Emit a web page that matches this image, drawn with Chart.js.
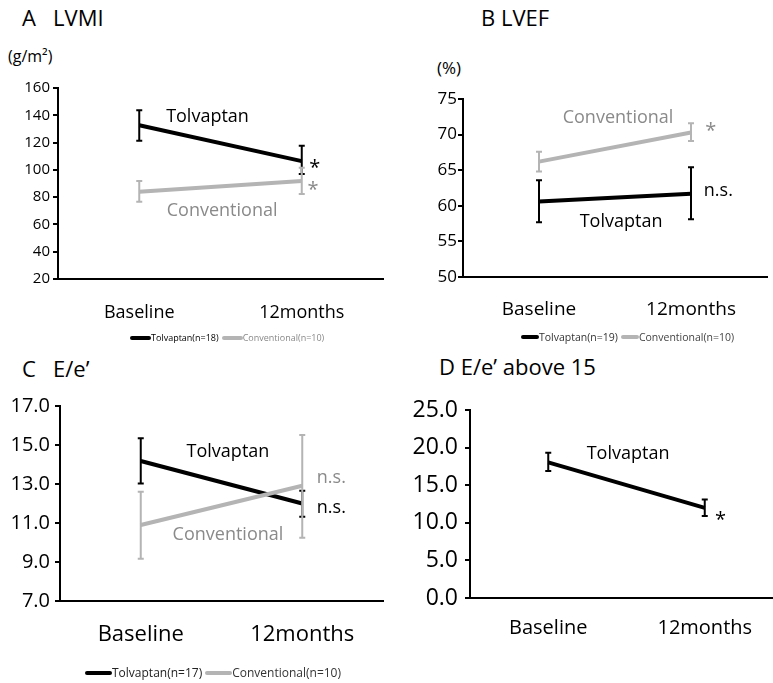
<!DOCTYPE html>
<html>
<head>
<meta charset="utf-8">
<script src="https://cdn.jsdelivr.net/npm/chart.js@4.4.0/dist/chart.umd.min.js"></script>
<style>
  html, body { margin: 0; padding: 0; background: #fff; overflow: hidden; }
  #page { position: relative; width: 773px; height: 683px; font-family: 'Open Sans', sans-serif; }
  .box { position: absolute; }
  .lbl { position: absolute; white-space: pre; line-height: 1; color: #000; }
  .legend { position: absolute; display: flex; align-items: center; white-space: pre; }
  .legend .ln { display: inline-block; height: 4px; border-radius: 2px; }
</style>
</head>
<body>
<div id="page">
  <div class="lbl" style="left:22px; top:6px; font-size:22px;">A   LVMI</div>
  <div class="lbl" style="left:8px; top:48px; font-size:16px;">(g/m²)</div>
  <div class="lbl" style="left:481px; top:6px; font-size:22px;">B LVEF</div>
  <div class="lbl" style="left:437px; top:59px; font-size:17px;">(%)</div>
  <div class="lbl" style="left:22px; top:357px; font-size:22px;">C   E/e’</div>
  <div class="lbl" style="left:439px; top:355px; font-size:22px;">D E/e’ above 15</div>

  <div class="box" style="left:0; top:0; width:386px; height:345px;"><canvas id="chartA"></canvas></div>
  <div class="box" style="left:386px; top:0; width:387px; height:345px;"><canvas id="chartB"></canvas></div>
  <div class="box" style="left:0; top:345px; width:386px; height:338px;"><canvas id="chartC"></canvas></div>
  <div class="box" style="left:386px; top:345px; width:397px; height:338px;"><canvas id="chartD"></canvas></div>

  <div class="legend" id="legA" style="left:130px; top:331px; font-size:9px;"></div>
  <div class="legend" id="legB" style="left:521px; top:330px; font-size:10.5px;"></div>
  <div class="legend" id="legC" style="left:85px; top:664px; font-size:12px;"></div>
</div>
<script>
// Zeitpunkte
const timepoints = ['Baseline', '12months'];

// A: LVMI (g/m2)
const lvmiTolMean = [132.7, 106.4];
const lvmiTolLow = [121.3, 97];
const lvmiTolHigh = [143.7, 117.6];
const lvmiConvMean = [84, 91.8];
const lvmiConvLow = [76.7, 82.3];
const lvmiConvHigh = [91.8, 101.5];
const lvmiTicks = [20, 160, 20];

// B: LVEF (%)
const lvefTolMean = [60.6, 61.7];
const lvefTolLow = [57.7, 58.1];
const lvefTolHigh = [63.6, 65.4];
const lvefConvMean = [66.2, 70.3];
const lvefConvLow = [64.8, 69.1];
const lvefConvHigh = [67.6, 71.6];
const lvefTicks = [50, 75, 5];

// C: E/e'
const eeTolMean = [14.18, 12.0];
const eeTolLow = [13.03, 11.32];
const eeTolHigh = [15.34, 12.66];
const eeConvMean = [10.9, 12.91];
const eeConvLow = [9.17, 10.25];
const eeConvHigh = [12.6, 15.51];
const eeTicks = [7, 17, 1];

// D: E/e' above 15 (nur Tolvaptan)
const ee15TolMean = [18.03, 11.99];
const ee15TolLow = [16.9, 10.9];
const ee15TolHigh = [19.3, 13.1];
const ee15Ticks = [0, 25, 5];

// Legenden
const legendA = ['Tolvaptan(n=18)', 'Conventional(n=10)'];
const legendB = ['Tolvaptan(n=19)', 'Conventional(n=10)'];
const legendC = ['Tolvaptan(n=17)', 'Conventional(n=10)'];

const BLACK = '#000000';
const GREY = '#b4b4b4';
const GREY_TEXT = '#8a8a8a';

Chart.defaults.font.family = "'Open Sans', sans-serif";
Chart.defaults.color = '#000';

// Fehlerbalken zeichnen
const errorBars = {
  id: 'errorBars',
  afterDatasetsDraw(chart) {
    const ctx = chart.ctx;
    const xs = chart.scales.x, ys = chart.scales.y;
    chart.data.datasets.forEach(ds => {
      if (!ds.errLow) return;
      ctx.save();
      ctx.strokeStyle = ds.borderColor;
      ctx.lineWidth = 2;
      ds.data.forEach((v, i) => {
        const px = xs.getPixelForValue(i);
        const top = ys.getPixelForValue(ds.errHigh[i]);
        const bot = ys.getPixelForValue(ds.errLow[i]);
        ctx.beginPath();
        ctx.moveTo(px, top); ctx.lineTo(px, bot);
        ctx.moveTo(px - 3, top); ctx.lineTo(px + 3, top);
        ctx.moveTo(px - 3, bot); ctx.lineTo(px + 3, bot);
        ctx.stroke();
      });
      ctx.restore();
    });
  }
};

// Beschriftungen im Diagramm (in Datenkoordinaten)
const notes = {
  id: 'notes',
  afterDraw(chart, args, opts) {
    const ctx = chart.ctx;
    const xs = chart.scales.x, ys = chart.scales.y;
    (opts.items || []).forEach(n => {
      ctx.save();
      ctx.font = n.size + "px 'Open Sans', sans-serif";
      ctx.fillStyle = n.color;
      ctx.textAlign = 'center';
      ctx.textBaseline = 'middle';
      ctx.fillText(n.text, xs.getPixelForValue(n.x), ys.getPixelForValue(n.y));
      ctx.restore();
    });
  }
};

function series(label, mean, low, high, color, order) {
  return {
    label: label,
    data: mean,
    errLow: low,
    errHigh: high,
    borderColor: color,
    backgroundColor: color,
    borderWidth: 4,
    pointRadius: 0,
    tension: 0,
    order: order
  };
}

function makeChart(id, datasets, cfg) {
  const [ymin, ymax, step] = cfg.ticks;
  return new Chart(document.getElementById(id), {
    type: 'line',
    data: { labels: timepoints, datasets: datasets },
    options: {
      responsive: true,
      maintainAspectRatio: false,
      animation: false,
      layout: { padding: cfg.padding },
      plugins: {
        legend: { display: false },
        tooltip: { enabled: false },
        notes: { items: cfg.notes }
      },
      scales: {
        x: {
          offset: true,
          grid: { display: false, drawTicks: false },
          border: { display: true, color: BLACK, width: 2 },
          ticks: { font: { size: cfg.xFont }, color: '#000', padding: cfg.xPad },
          afterFit: s => { s.height = 50; }
        },
        y: {
          min: ymin,
          max: ymax,
          grid: { display: true, drawOnChartArea: false, drawTicks: true, tickLength: 5, color: BLACK, lineWidth: 2 },
          border: { display: true, color: BLACK, width: 2 },
          ticks: {
            stepSize: step,
            font: { size: cfg.yFont },
            color: '#000',
            padding: cfg.yPad,
            callback: cfg.yFmt
          },
          afterFit: s => { s.width = cfg.yWidth; }
        }
      }
    },
    plugins: [errorBars, notes]
  });
}

makeChart('chartA', [
  series('Tolvaptan', lvmiTolMean, lvmiTolLow, lvmiTolHigh, BLACK, 0),
  series('Conventional', lvmiConvMean, lvmiConvLow, lvmiConvHigh, GREY, 1)
], {
  ticks: lvmiTicks, padding: { top: 88, right: 3, bottom: 16, left: 0 },
  yWidth: 58, yFont: 15, yPad: 3, xFont: 18, xPad: 23,
  yFmt: v => v,
  notes: [
    { text: 'Tolvaptan', x: 0.42, y: 138.7, color: BLACK, size: 18 },
    { text: '*', x: 1.08, y: 101, color: BLACK, size: 20 },
    { text: '*', x: 1.07, y: 85, color: GREY_TEXT, size: 20 },
    { text: 'Conventional', x: 0.51, y: 69.8, color: GREY_TEXT, size: 18 }
  ]
});

makeChart('chartB', [
  series('Tolvaptan', lvefTolMean, lvefTolLow, lvefTolHigh, BLACK, 0),
  series('Conventional', lvefConvMean, lvefConvLow, lvefConvHigh, GREY, 1)
], {
  ticks: lvefTicks, padding: { top: 99, right: 6, bottom: 18, left: 0 },
  yWidth: 77, yFont: 17, yPad: 1, xFont: 19, xPad: 21,
  yFmt: v => v,
  notes: [
    { text: 'Conventional', x: 0.52, y: 72.3, color: GREY_TEXT, size: 18 },
    { text: '*', x: 1.13, y: 70.5, color: GREY_TEXT, size: 20 },
    { text: 'n.s.', x: 1.18, y: 62.1, color: BLACK, size: 18 },
    { text: 'Tolvaptan', x: 0.54, y: 57.7, color: BLACK, size: 18 }
  ]
});

makeChart('chartC', [
  series('Tolvaptan', eeTolMean, eeTolLow, eeTolHigh, BLACK, 1),
  series('Conventional', eeConvMean, eeConvLow, eeConvHigh, GREY, 0)
], {
  ticks: eeTicks, padding: { top: 61, right: 3, bottom: 32, left: 0 },
  yWidth: 60, yFont: 20, yPad: 5, xFont: 22, xPad: 21,
  yFmt: v => (Math.round(v) % 2 === 1 ? v.toFixed(1) : ''),
  notes: [
    { text: 'Tolvaptan', x: 0.54, y: 14.64, color: BLACK, size: 18 },
    { text: 'n.s.', x: 1.18, y: 13.3, color: GREY_TEXT, size: 18 },
    { text: 'n.s.', x: 1.18, y: 11.77, color: BLACK, size: 18 },
    { text: 'Conventional', x: 0.54, y: 10.38, color: GREY_TEXT, size: 18 }
  ]
});

makeChart('chartD', [
  series('Tolvaptan', ee15TolMean, ee15TolLow, ee15TolHigh, BLACK, 0)
], {
  ticks: ee15Ticks, padding: { top: 65, right: 0, bottom: 35, left: 0 },
  yWidth: 84, yFont: 23, yPad: 7, xFont: 20, xPad: 18,
  yFmt: v => v.toFixed(1),
  notes: [
    { text: 'Tolvaptan', x: 0.51, y: 19.15, color: BLACK, size: 18 },
    { text: '*', x: 1.10, y: 10.3, color: BLACK, size: 20 }
  ]
});

// HTML-Legenden
function buildLegend(id, labels, textColors, lineW) {
  const el = document.getElementById(id);
  const colors = [BLACK, GREY];
  labels.forEach((lab, i) => {
    const ln = document.createElement('span');
    ln.className = 'ln';
    ln.style.width = lineW + 'px';
    ln.style.background = colors[i];
    ln.style.marginLeft = i ? '3px' : '0';
    const tx = document.createElement('span');
    tx.textContent = lab;
    tx.style.color = textColors[i];
    el.appendChild(ln);
    el.appendChild(tx);
  });
}
buildLegend('legA', legendA, ['#000', '#888'], 21);
buildLegend('legB', legendB, ['#333', '#444'], 18);
buildLegend('legC', legendC, ['#222', '#333'], 27);
</script>
</body>
</html>
